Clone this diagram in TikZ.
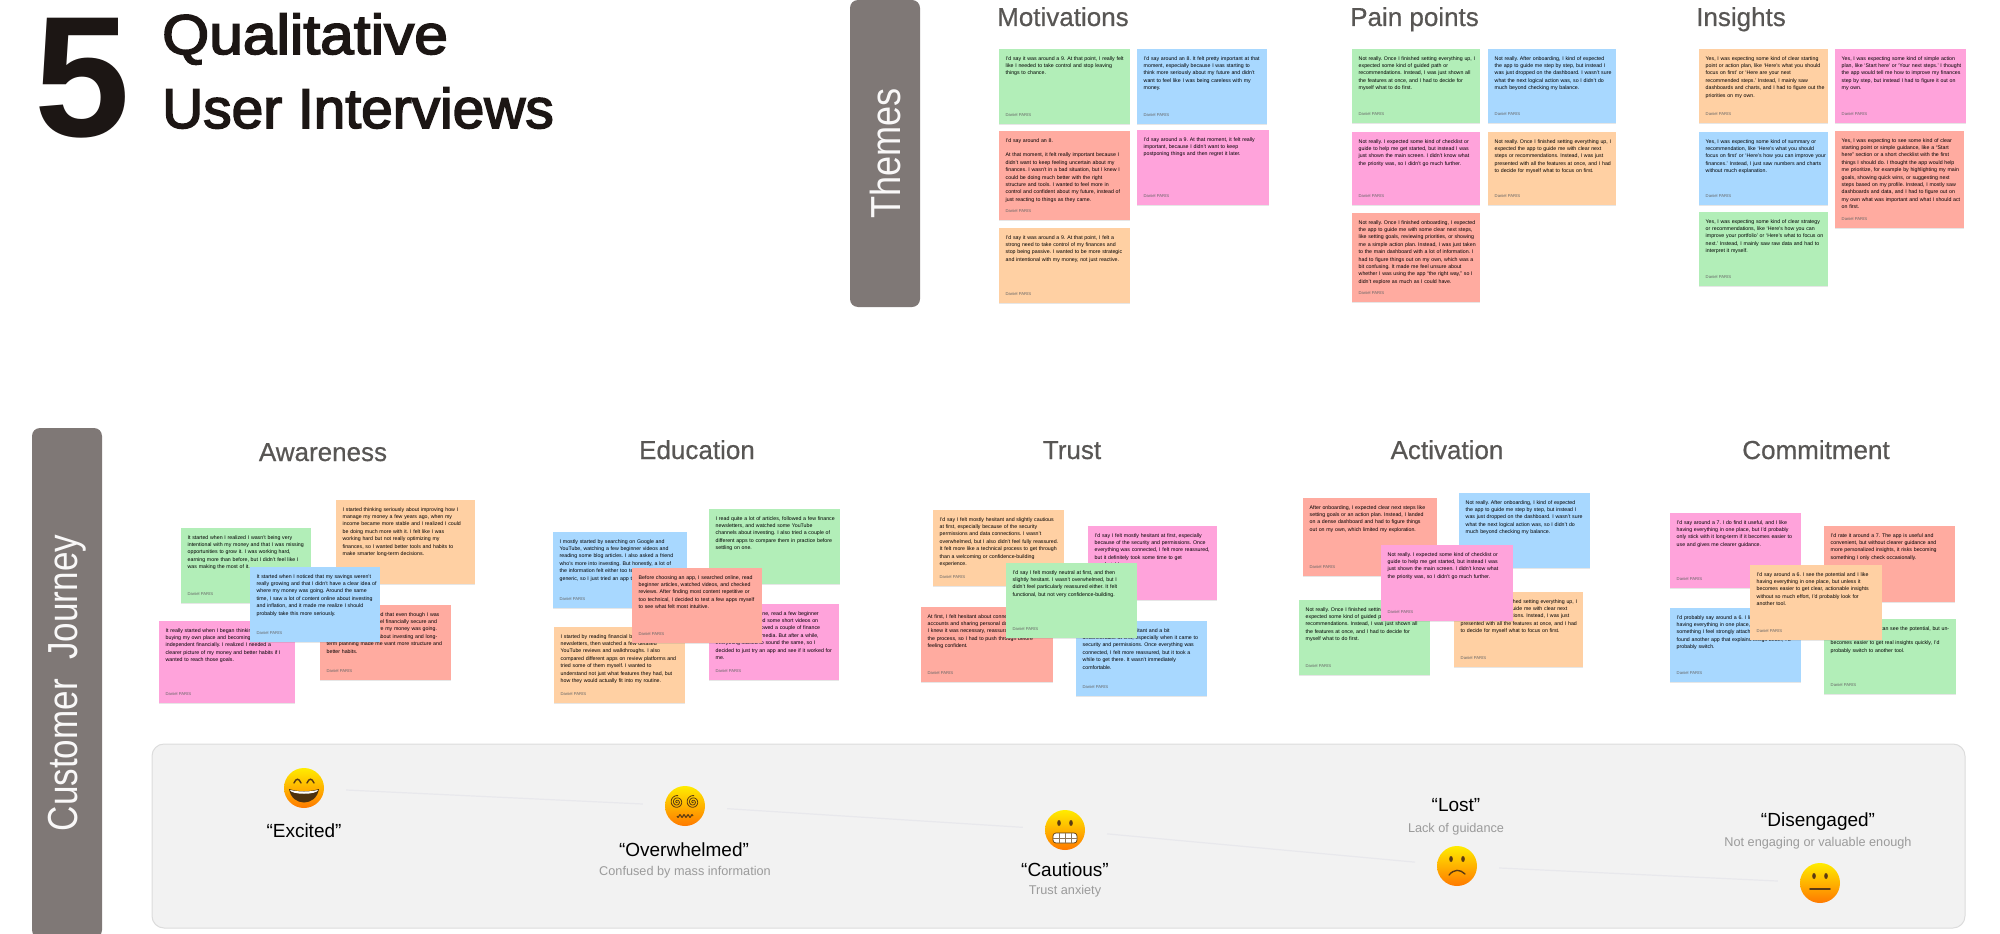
\documentclass[tikz,border=0pt]{standalone}
\usepackage{fontspec}
\setmainfont{Liberation Sans}
\newfontfamily\titlefont[FakeBold=2.8]{Liberation Sans}
\newfontfamily\headfont[FakeBold=.6]{Liberation Sans}
\usetikzlibrary{shadows}
\definecolor{inkblack}{HTML}{1C1614}
\definecolor{barbrown}{HTML}{7F7876}
\definecolor{headgray}{HTML}{585654}
\definecolor{notegreen}{HTML}{B2EEB8}
\definecolor{noteblue}{HTML}{A8D8FF}
\definecolor{notered}{HTML}{FFABA0}
\definecolor{notepink}{HTML}{FFA3DB}
\definecolor{noteorange}{HTML}{FFD0A3}
\definecolor{bandgray}{HTML}{F2F2F2}
\definecolor{bandedge}{HTML}{DCDCDC}
\definecolor{linegray}{HTML}{E8E8EC}
\definecolor{subgray}{HTML}{9B9B9B}
\definecolor{eyebrown}{HTML}{5A3A12}
\tikzset{
  notefill/.style={drop shadow={opacity=.2,shadow xshift=0pt,shadow yshift=-1.2pt}},
  notetext/.style={anchor=north west,inner xsep=6.5pt,inner ysep=7pt,text width=126pt,align=left,
    font=\frenchspacing\fontsize{5.25}{7.4}\selectfont,text=black},
  notefoot/.style={anchor=west,inner sep=0pt,font=\fontsize{4.2}{5}\selectfont,text=black!60},
  sidebar/.style={fill=barbrown,rounded corners=8pt,rotate=90,text=white!95!barbrown,
    font=\fontsize{42}{42}\selectfont},
  colhead/.style={anchor=base west,font=\headfont\fontsize{26}{26}\selectfont,text=headgray,inner sep=0pt},
  rowhead/.style={anchor=base,font=\headfont\fontsize{26}{26}\selectfont,text=headgray,inner sep=0pt},
  facenode/.style={circle,minimum size=40pt,inner sep=0pt,top color=yellow!85!orange,bottom color=orange!95!red},
  feel/.style={font=\fontsize{19}{19}\selectfont,text=black,inner sep=0pt},
  feelsub/.style={font=\fontsize{12.7}{13}\selectfont,text=subgray,inner sep=0pt},
  moodline/.style={draw=linegray,line width=1.2pt,shorten >=22pt,shorten <=22pt}
}
\newcommand{\stickynote}[7]{%
  \fill[notefill,fill=#2] (#3,#4) rectangle ++(#5,#6);
  \node[notetext] (#1) at (#3,#4) {#7};
  \node[notefoot] (#1name) at (#3+6.5,#4+#6-9) {Daniel PARIS};
}
\begin{document}
\begin{tikzpicture}[x=1pt,y=-1pt]
  \useasboundingbox (0,0) rectangle (2000,934);
  \node[anchor=west,inner sep=0pt,text=inkblack,font=\fontsize{172}{172}\selectfont\bfseries] (bignum) at (34,78) {5};
  \node[anchor=west,inner sep=0pt,text=inkblack,font=\titlefont\fontsize{56}{56}\selectfont] (titleone) at (162,39) {\scalebox{1.08}[1]{Qualitative}};
  \node[anchor=west,inner sep=0pt,text=inkblack,font=\titlefont\fontsize{56}{56}\selectfont] (titletwo) at (162,108) {\scalebox{1.015}[1]{User Interviews}};

  \node[sidebar,minimum width=307pt,minimum height=70pt] (themesbar) at (885,153.5) {\scalebox{.86}[1]{Themes}};
  \node[sidebar,minimum width=510pt,minimum height=70pt] (journeybar) at (67,683) {\scalebox{.835}[1]{Customer~~Journey}};

  \node[colhead] (motivations) at (997,26) {Motivations};
  \node[colhead] (painpoints) at (1350,26) {Pain points};
  \node[colhead] (insights) at (1696,26) {Insights};

  \stickynote{mgreen}{notegreen}{999}{49}{131}{75}{I'd say it was around a 9. At that point, I really felt\\like I needed to take control and stop leaving\\things to chance.}
  \stickynote{mblue}{noteblue}{1137}{49}{130}{75}{I'd say around an 8. It felt pretty important at that\\moment, especially because I was starting to\\think more seriously about my future and didn't\\want to feel like I was being careless with my\\money.}
  \stickynote{mred}{notered}{999}{131}{131}{89}{I'd say around an 8.\\[7.4pt]At that moment, it felt really important because I\\didn't want to keep feeling uncertain about my\\finances. I wasn't in a bad situation, but I knew I\\could be doing much better with the right\\structure and tools. I wanted to feel more in\\control and confident about my future, instead of\\just reacting to things as they came.}
  \stickynote{mpink}{notepink}{1137}{130}{132}{75}{I'd say around a 9. At that moment, it felt really\\important, because I didn't want to keep\\postponing things and then regret it later.}
  \stickynote{morange}{noteorange}{999}{228}{131}{75}{I'd say it was around a 9. At that point, I felt a\\strong need to take control of my finances and\\stop being passive. I wanted to be more strategic\\and intentional with my money, not just reactive.}

  \stickynote{pgreen}{notegreen}{1352}{49}{128}{74}{Not really. Once I finished setting everything up, I\\expected some kind of guided path or\\recommendations. Instead, I was just shown all\\the features at once, and I had to decide for\\myself what to do first.}
  \stickynote{pblue}{noteblue}{1488}{49}{128}{74}{Not really. After onboarding, I kind of expected\\the app to guide me step by step, but instead I\\was just dropped on the dashboard. I wasn't sure\\what the next logical action was, so I didn't do\\much beyond checking my balance.}
  \stickynote{ppink}{notepink}{1352}{132}{128}{73}{Not really. I expected some kind of checklist or\\guide to help me get started, but instead I was\\just shown the main screen. I didn't know what\\the priority was, so I didn't go much further.}
  \stickynote{porange}{noteorange}{1488}{132}{128}{73}{Not really. Once I finished setting everything up, I\\expected the app to guide me with clear next\\steps or recommendations. Instead, I was just\\presented with all the features at once, and I had\\to decide for myself what to focus on first.}
  \stickynote{pred}{notered}{1352}{213}{128}{89}{Not really. Once I finished onboarding, I expected\\the app to guide me with some clear next steps,\\like setting goals, reviewing priorities, or showing\\me a simple action plan. Instead, I was just taken\\to the main dashboard with a lot of information. I\\had to figure things out on my own, which was a\\bit confusing. It made me feel unsure about\\whether I was using the app ``the right way,'' so I\\didn't explore as much as I could have.}

  \stickynote{iorange}{noteorange}{1699}{49}{129}{74}{Yes, I was expecting some kind of clear starting\\point or action plan, like `Here's what you should\\focus on first' or `Here are your next\\recommended steps.' Instead, I mainly saw\\dashboards and charts, and I had to figure out the\\priorities on my own.}
  \stickynote{ipink}{notepink}{1835}{49}{131}{74}{Yes, I was expecting some kind of simple action\\plan, like `Start here' or `Your next steps.' I thought\\the app would tell me how to improve my finances\\step by step, but instead I had to figure it out on\\my own.}
  \stickynote{iblue}{noteblue}{1699}{132}{129}{73}{Yes, I was expecting some kind of summary or\\recommendation, like `Here's what you should\\focus on first' or `Here's how you can improve your\\finances.' Instead, I just saw numbers and charts\\without much explanation.}
  \stickynote{ired}{notered}{1835}{131}{129}{97}{Yes, I was expecting to see some kind of clear\\starting point or simple guidance, like a ``Start\\here'' section or a short checklist with the first\\things I should do. I thought the app would help\\me prioritize, for example by highlighting my main\\goals, showing quick wins, or suggesting next\\steps based on my profile. Instead, I mostly saw\\dashboards and data, and I had to figure out on\\my own what was important and what I should act\\on first.}
  \stickynote{igreen}{notegreen}{1699}{212}{129}{74}{Yes, I was expecting some kind of clear strategy\\or recommendations, like `Here's how you can\\improve your portfolio' or `Here's what to focus on\\next.' Instead, I mainly saw raw data and had to\\interpret it myself.}

  \node[rowhead] (awareness) at (323,461) {Awareness};
  \node[rowhead] (education) at (697,459) {Education};
  \node[rowhead] (trust) at (1072,459) {Trust};
  \node[rowhead] (activation) at (1447,459) {Activation};
  \node[rowhead] (commitment) at (1816,459) {Commitment};

  \stickynote{agreen}{notegreen}{181}{528}{130}{75}{It started when I realized I wasn't being very\\intentional with my money and that I was missing\\opportunities to grow it. I was working hard,\\earning more than before, but I didn't feel like I\\was making the most of it.}
  \stickynote{aorange}{noteorange}{336}{500}{139}{84}{I started thinking seriously about improving how I\\manage my money a few years ago, when my\\income became more stable and I realized I could\\be doing much more with it. I felt like I was\\working hard but not really optimizing my\\finances, so I wanted better tools and habits to\\make smarter long-term decisions.}
  \stickynote{ared}{notered}{320}{605}{131}{75}{It started when I noticed that even though I was\\earning well, I didn't feel financially secure and\\didn't really know where my money was going.\\Reading and hearing about investing and long-\\term planning made me want more structure and\\better habits.}
  \stickynote{apink}{notepink}{159}{621}{136}{82}{It really started when I began thinking about\\buying my own place and becoming more\\independent financially. I realized I needed a\\clearer picture of my money and better habits if I\\wanted to reach those goals.}
  \stickynote{ablue}{noteblue}{250}{567}{130}{75}{It started when I noticed that my savings weren't\\really growing and that I didn't have a clear idea of\\where my money was going. Around the same\\time, I saw a lot of content online about investing\\and inflation, and it made me realize I should\\probably take this more seriously.}

  \stickynote{eblue}{noteblue}{553}{532}{134}{76}{I mostly started by searching on Google and\\YouTube, watching a few beginner videos and\\reading some blog articles. I also asked a friend\\who's more into investing. But honestly, a lot of\\the information felt either too technical or too\\generic, so I just tried an app to see.}
  \stickynote{egreen}{notegreen}{709}{509}{131}{75}{I read quite a lot of articles, followed a few finance\\newsletters, and watched some YouTube\\channels about investing. I also tried a couple of\\different apps to compare them in practice before\\settling on one.}
  \stickynote{eorange}{noteorange}{554}{627}{131}{76}{I started by reading financial blogs and\\newsletters, then watched a few detailed\\YouTube reviews and walkthroughs. I also\\compared different apps on review platforms and\\tried some of them myself. I wanted to\\understand not just what features they had, but\\how they would actually fit into my routine.}
  \stickynote{epink}{notepink}{709}{604}{130}{76}{I searched a bit online, read a few beginner\\articles, and watched some short videos on\\YouTube. I also followed a couple of finance\\accounts on social media. But after a while,\\everything started to sound the same, so I\\decided to just try an app and see if it worked for\\me.}
  \stickynote{ered}{notered}{632}{568}{130}{75}{Before choosing an app, I searched online, read\\beginner articles, watched videos, and checked\\reviews. After finding most content repetitive or\\too technical, I decided to test a few apps myself\\to see what felt most intuitive.}

  \stickynote{torange}{noteorange}{933}{510}{131}{76}{I'd say I felt mostly hesitant and slightly cautious\\at first, especially because of the security\\permissions and data connections. I wasn't\\overwhelmed, but I also didn't feel fully reassured.\\It felt more like a technical process to get through\\than a welcoming or confidence-building\\experience.}
  \stickynote{tpink}{notepink}{1088}{526}{129}{74}{I'd say I felt mostly hesitant at first, especially\\because of the security and permissions. Once\\everything was connected, I felt more reassured,\\but it definitely took some time to get\\comfortable.}
  \stickynote{tred}{notered}{921}{607}{132}{75}{At first, I felt hesitant about connecting my\\accounts and sharing personal data. Even though\\I knew it was necessary, reassurance was lacking in\\the process, so I had to push through before\\feeling confident.}
  \stickynote{tblue}{noteblue}{1076}{621}{131}{75}{I'd say I felt mostly hesitant and a bit\\uncomfortable at first, especially when it came to\\security and permissions. Once everything was\\connected, I felt more reassured, but it took a\\while to get there. It wasn't immediately\\comfortable.}
  \stickynote{tgreen}{notegreen}{1006}{563}{131}{75}{I'd say I felt mostly neutral at first, and then\\slightly hesitant. I wasn't overwhelmed, but I\\didn't feel particularly reassured either. It felt\\functional, but not very confidence-building.}

  \stickynote{cred}{notered}{1303}{498}{134}{78}{After onboarding, I expected clear next steps like\\setting goals or an action plan. Instead, I landed\\on a dense dashboard and had to figure things\\out on my own, which limited my exploration.}
  \stickynote{cblue}{noteblue}{1459}{493}{131}{75}{Not really. After onboarding, I kind of expected\\the app to guide me step by step, but instead I\\was just dropped on the dashboard. I wasn't sure\\what the next logical action was, so I didn't do\\much beyond checking my balance.}
  \stickynote{cgreen}{notegreen}{1299}{600}{131}{75}{Not really. Once I finished setting everything up, I\\expected some kind of guided path or\\recommendations. Instead, I was just shown all\\the features at once, and I had to decide for\\myself what to do first.}
  \stickynote{corange}{noteorange}{1454}{592}{129}{75}{Not really. Once I finished setting everything up, I\\expected the app to guide me with clear next\\steps or recommendations. Instead, I was just\\presented with all the features at once, and I had\\to decide for myself what to focus on first.}
  \stickynote{cpink}{notepink}{1381}{545}{132}{76}{Not really. I expected some kind of checklist or\\guide to help me get started, but instead I was\\just shown the main screen. I didn't know what\\the priority was, so I didn't go much further.}

  \stickynote{kpink}{notepink}{1670}{513}{131}{75}{I'd say around a 7. I do find it useful, and I like\\having everything in one place, but I'd probably\\only stick with it long-term if it becomes easier to\\use and gives me clearer guidance.}
  \stickynote{kred}{notered}{1824}{526}{131}{76}{I'd rate it around a 7. The app is useful and\\convenient, but without clearer guidance and\\more personalized insights, it risks becoming\\something I only check occasionally.}
  \stickynote{kblue}{noteblue}{1670}{608}{131}{74}{I'd probably say around a 6. I like the idea of\\having everything in one place, but it's not yet\\something I feel strongly attached to. If I\\found another app that explains things better, I'd\\probably switch.}
  \stickynote{kgreen}{notegreen}{1824}{619}{132}{75}{I'd say around a 6. I can see the potential, but unless it\\becomes easier to get real insights quickly, I'd\\probably switch to another tool.}
  \stickynote{korange}{noteorange}{1750}{565}{132}{75}{I'd say around a 6. I see the potential and I like\\having everything in one place, but unless it\\becomes easier to get clear, actionable insights\\without so much effort, I'd probably look for\\another tool.}

  \path[fill=bandgray,draw=bandedge,line width=1pt,rounded corners=12pt] (152,744) rectangle (1965,928);

  \node[facenode] (excited) at (304,788) {};
  \node[facenode] (overwhelmed) at (685,806) {};
  \node[facenode] (cautious) at (1065,830) {};
  \node[facenode] (lost) at (1457,866) {};
  \node[facenode] (disengaged) at (1820,883) {};
  \draw[moodline] (excited)--(overwhelmed);
  \draw[moodline] (overwhelmed)--(cautious);
  \draw[moodline] (cautious)--(lost);
  \draw[moodline] (lost)--(disengaged);

  \begin{scope}[shift={(excited)}]
    \fill[eyebrown!85!black] (-15,1) .. controls (-12,19) and (12,19) .. (15,1) .. controls (5,4) and (-5,4) .. (-15,1);
    \fill[white] (-14,2) .. controls (-13,7) and (13,7) .. (14,2) .. controls (5,4) and (-5,4) .. (-14,2);
    \draw[eyebrown,line width=1.4pt,line cap=round] (-10,-5) .. controls (-8,-10) and (-5,-10) .. (-3,-5) (3,-5) .. controls (5,-10) and (8,-10) .. (10,-5);
  \end{scope}
  \begin{scope}[shift={(overwhelmed)}]
    \foreach \sx in {-8,8}
      \draw[eyebrown,line width=.8pt,shift={(\sx,-4)},domain=0:1000,samples=70,smooth,variable=\t] plot ({\t/1000*6.5*cos(\t)},{\t/1000*6.5*sin(\t)});
    \draw[eyebrown,line width=1.1pt,domain=-8:8,samples=40,smooth,variable=\t] plot ({\t},{10+1.3*sin(\t*90)});
  \end{scope}
  \begin{scope}[shift={(cautious)}]
    \fill[eyebrown] (-6,-7) ellipse (1.8 and 3) (6,-7) ellipse (1.8 and 3);
    \draw[eyebrown,fill=white,line width=.7pt,rounded corners=3pt] (-12,3) rectangle (12,13);
    \draw[eyebrown!70,line width=.5pt] (-12,8)--(12,8) (-6,3)--(-6,13) (0,3)--(0,13) (6,3)--(6,13);
  \end{scope}
  \begin{scope}[shift={(lost)}]
    \fill[eyebrown] (-6,-7) ellipse (1.8 and 3) (6,-7) ellipse (1.8 and 3);
    \draw[eyebrown,line width=1.4pt,line cap=round] (-8,9) .. controls (-3,3) and (3,3) .. (8,8);
  \end{scope}
  \begin{scope}[shift={(disengaged)}]
    \fill[eyebrown] (-6,-7) ellipse (1.8 and 3) (6,-7) ellipse (1.8 and 3);
    \draw[eyebrown,line width=1.6pt,line cap=round] (-10,6)--(10,6);
  \end{scope}

  \node[feel] (excitedlab) at (304,831) {``Excited''};
  \node[feel] (overwhelmedlab) at (684,850) {``Overwhelmed''};
  \node[feelsub] (overwhelmedsub) at (685,872) {Confused by mass information};
  \node[feel] (cautiouslab) at (1065,870) {``Cautious''};
  \node[feelsub] (cautioussub) at (1065,891) {Trust anxiety};
  \node[feel] (lostlab) at (1456,805) {``Lost''};
  \node[feelsub] (lostsub) at (1456,829) {Lack of guidance};
  \node[feel] (disengagedlab) at (1818,822) {``Disengaged''};
  \node[feelsub] (disengagedsub) at (1818,843) {Not engaging or valuable enough};
\end{tikzpicture}
\end{document}
